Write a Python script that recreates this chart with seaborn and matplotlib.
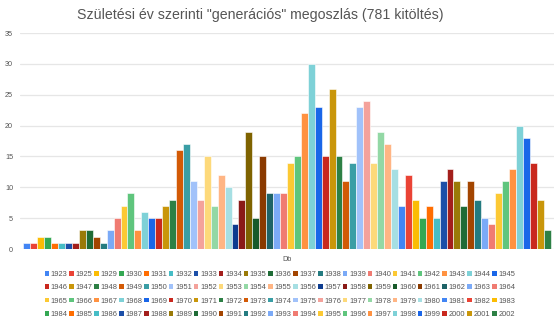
import matplotlib
matplotlib.use("Agg")
import matplotlib.pyplot as plt
import seaborn as sns
import pandas as pd

# ---- data ----
category = ["Db"]
years = [1923, 1925, 1929, 1930, 1931, 1932, 1933, 1934, 1935, 1936, 1937, 1938,
         1939, 1940, 1941, 1942, 1943, 1944, 1945, 1946, 1947, 1948, 1949, 1950,
         1951, 1952, 1953, 1954, 1955, 1956, 1957, 1958, 1959, 1960, 1961, 1962,
         1963, 1964, 1965, 1966, 1967, 1968, 1969, 1970, 1971, 1972, 1973, 1974,
         1975, 1976, 1977, 1978, 1979, 1980, 1981, 1982, 1983, 1984, 1985, 1986,
         1987, 1988, 1989, 1990, 1991, 1992, 1993, 1994, 1995, 1996, 1997, 1998,
         1999, 2000, 2001, 2002]
counts = [1, 1, 2, 2, 1, 1, 1, 1, 3, 3, 2, 1,
          3, 5, 7, 9, 3, 6, 5, 5, 7, 8, 16, 17,
          11, 8, 15, 7, 12, 10, 4, 8, 19, 5, 15, 9,
          9, 9, 14, 15, 22, 30, 23, 15, 26, 15, 11, 14,
          23, 24, 14, 19, 17, 13, 7, 12, 8, 5, 7, 5,
          11, 13, 11, 7, 11, 8, 5, 4, 9, 11, 13, 20,
          18, 14, 8, 3]
title = 'Születési év szerinti "generációs" megoszlás (781 kitöltés)'

# ---- colour palette (Google-style shade groups) ----
base = ["#4285f4", "#ea4335", "#fbbc04", "#34a853", "#ff6d01", "#46bdc6"]
dark = ["#1c4fa8", "#a31f1c", "#9a7a08", "#1f6b36", "#a34500", "#247b80"]
light = ["#7baaf7", "#f07b72", "#fcc934", "#5fc57d", "#ff9241", "#7ed1d7"]
medium = ["#1a66e8", "#c9281e", "#c9960a", "#2d8045", "#d35a06", "#3a9ea5"]
lighter = ["#a1c2fa", "#f4a29b", "#fdd97a", "#93d8a5", "#ffb584", "#a6dfe3"]
darker = ["#0d3c8f", "#8a1a17", "#7f6300", "#185a2a", "#8a3a00", "#1e6367"]
pal_groups = [base, dark, light, medium, lighter, darker,
              light, medium, lighter, base, dark, light, medium]
palette_list = []
for g in pal_groups:
    palette_list.extend(g)
palette_list = palette_list[:len(years)]

df = pd.DataFrame({"cat": category * len(years),
                   "year": [str(y) for y in years],
                   "count": counts})

sns.set_style("white")
plt.rcParams["font.family"] = ["Liberation Sans", "DejaVu Sans"]

fig = plt.figure(figsize=(5.6, 3.25), dpi=100)
ax = fig.add_axes([20 / 560, (325 - 249) / 325, 534 / 560, (249 - 33) / 325])

sns.barplot(data=df, x="cat", y="count", hue="year",
            palette=palette_list, width=0.987, dodge=True, saturation=1,
            edgecolor="white", linewidth=0.4, ax=ax, errorbar=None)

ax.set_xlim(-0.5, 0.5)
ax.set_ylim(0, 35)
ax.set_yticks(range(0, 36, 5))
ax.yaxis.grid(True, color="#e6e6e6", linewidth=0.9)
ax.set_axisbelow(True)
for s in ax.spines.values():
    s.set_visible(False)
ax.set_xlabel("")
ax.set_ylabel("")
ax.tick_params(axis="y", length=0, pad=5, labelsize=5.2, labelcolor="#555555")
ax.tick_params(axis="x", length=0, pad=5, labelsize=5.2, labelcolor="#555555")

fig.text(260 / 560, 1 - 15 / 325, title, ha="center", va="center",
         fontsize=10.2, color="#555555")

# legend in row-major order (4 rows x 19 columns)
handles, labels = ax.get_legend_handles_labels()
if ax.get_legend():
    ax.get_legend().remove()
ncol = 19
nrow = (len(handles) + ncol - 1) // ncol
order = [r * ncol + c for c in range(ncol) for r in range(nrow)
         if r * ncol + c < len(handles)]
leg = fig.legend([handles[i] for i in order], [labels[i] for i in order],
                 loc="upper center", bbox_to_anchor=(280 / 560, 1 - 267 / 325),
                 ncol=ncol, frameon=False, fontsize=5.4,
                 handlelength=0.6, handleheight=0.6, handletextpad=0.25,
                 columnspacing=0.2, labelspacing=0.85, borderpad=0)
for t in leg.get_texts():
    t.set_color("#555555")
for h in leg.legend_handles:
    h.set_edgecolor("none")

fig.savefig("out.png", dpi=100)
